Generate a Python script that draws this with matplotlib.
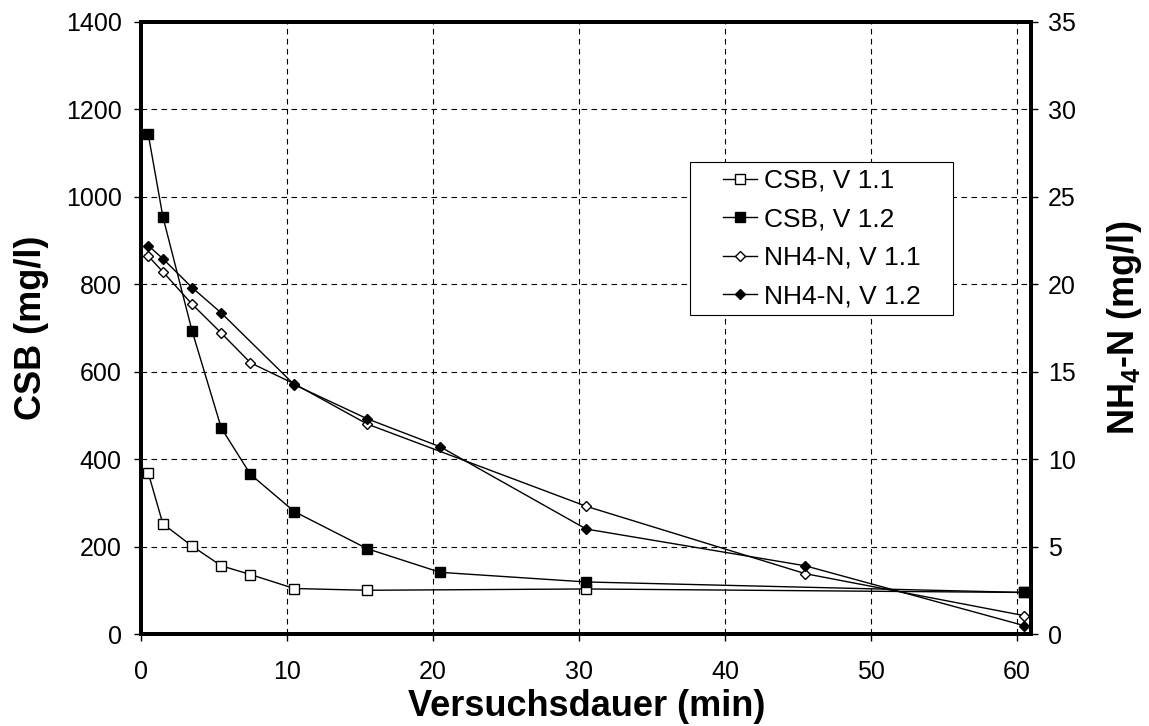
import matplotlib.pyplot as plt
from matplotlib.patches import Rectangle

plt.rcParams['font.family'] = ['Liberation Sans', 'DejaVu Sans']
plt.rcParams['mathtext.fontset'] = 'custom'
plt.rcParams['mathtext.bf'] = 'Liberation Sans:bold'
plt.rcParams['mathtext.rm'] = 'Liberation Sans'

# Daten
t_csb_11 = [0.5, 1.5, 3.5, 5.5, 7.5, 10.5, 15.5, 30.5, 60.5]
csb_11 = [368, 252, 201, 156, 136, 104, 100, 103, 95]

t_csb_12 = [0.5, 1.5, 3.5, 5.5, 7.5, 10.5, 15.5, 20.5, 30.5, 60.5]
csb_12 = [1142, 954, 693, 471, 365, 280, 195, 141, 119, 95]

t_nh4_11 = [0.5, 1.5, 3.5, 5.5, 7.5, 10.5, 15.5, 30.5, 45.5, 60.5]
nh4_11 = [21.6, 20.7, 18.85, 17.2, 15.5, 14.3, 12.0, 7.3, 3.45, 1.05]

t_nh4_12 = [0.5, 1.5, 3.5, 5.5, 10.5, 15.5, 20.5, 30.5, 45.5, 60.5]
nh4_12 = [22.2, 21.45, 19.8, 18.35, 14.25, 12.3, 10.7, 6.0, 3.9, 0.48]

fig = plt.figure(figsize=(11.49, 7.26), dpi=100)
ax = fig.add_axes([0.1227, 0.1267, 0.775, 0.8435])
ax2 = ax.twinx()

l1, = ax.plot(t_csb_11, csb_11, color='black', lw=1.0, marker='s', ms=7.5,
              mfc='white', mec='black', mew=1.0, label='CSB, V 1.1')
l2, = ax.plot(t_csb_12, csb_12, color='black', lw=1.0, marker='s', ms=7.5,
              mfc='black', mec='black', label='CSB, V 1.2')
l3, = ax2.plot(t_nh4_11, nh4_11, color='black', lw=1.0, marker='D', ms=5.5,
               mfc='white', mec='black', mew=1.0, label='NH4-N, V 1.1')
l4, = ax2.plot(t_nh4_12, nh4_12, color='black', lw=1.0, marker='D', ms=5.5,
               mfc='black', mec='black', label='NH4-N, V 1.2')

ax.set_xlim(0, 61)
ax.set_ylim(0, 1400)
ax2.set_ylim(0, 35)
ax.set_xticks(range(0, 61, 10))
ax.set_yticks(range(0, 1401, 200))
ax2.set_yticks(range(0, 36, 5))

ax.grid(True, color='black', linestyle=(0, (5, 4)), linewidth=0.8)

for a in (ax, ax2):
    for s in a.spines.values():
        s.set_linewidth(2.8)
ax.tick_params(axis='y', labelsize=18, direction='out', length=5, width=1.0, pad=9)
ax.tick_params(axis='x', labelsize=18, direction='out', length=5, width=1.0, pad=14)
ax2.tick_params(axis='y', labelsize=18, direction='out', length=5, width=1.0, pad=7)

ax.set_xlabel('Versuchsdauer (min)', fontsize=26, fontweight='bold', labelpad=3)
ax.set_ylabel('CSB (mg/l)', fontsize=26, fontweight='bold', labelpad=12)
ax2.set_ylabel('NH$_\\mathbf{4}$-N (mg/l)', fontsize=26, fontweight='bold', labelpad=21)

# Legendenrahmen separat, damit das Innenmaß passt
ax2.add_patch(Rectangle((0.617, 0.521), 0.295, 0.249, transform=ax2.transAxes,
                        facecolor='white', edgecolor='black', lw=0.8, zorder=5))
leg = ax2.legend(handles=[l1, l2, l3, l4], loc='center',
                 bbox_to_anchor=(0.7645, 0.6455), borderaxespad=0,
                 fontsize=19, frameon=False,
                 handlelength=1.3, handletextpad=0.25, labelspacing=0.55,
                 borderpad=0.2)
leg.set_zorder(6)

fig.savefig('out.png', dpi=100)
